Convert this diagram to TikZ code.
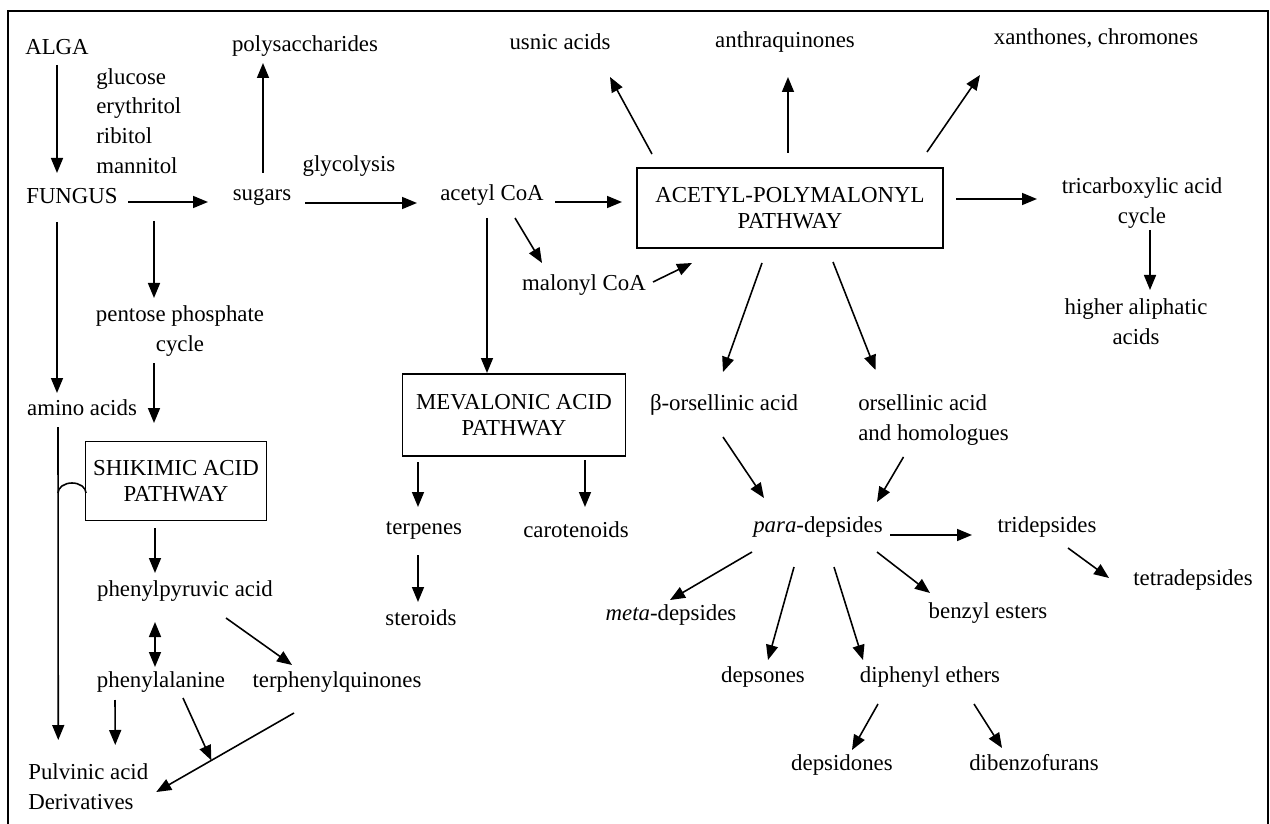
\documentclass[tikz,border=0pt]{standalone}
\usepackage{fontspec}
\setmainfont{Liberation Serif}
\usetikzlibrary{arrows.meta}

\begin{document}
\begin{tikzpicture}[
  x=0.2mm, y=-0.2mm, line width=0.9pt,
  font=\fontsize{13}{17}\selectfont, >={Triangle[length=3mm, width=2.4mm]},
  cpd/.style={inner sep=2pt, align=center},
  lst/.style={inner sep=2pt, anchor=west, align=left},
  box/.style={draw, align=center, font=\fontsize{13}{15}\selectfont}
]
\useasboundingbox (0,0) rectangle (1270,824);
% frame, open at the bottom
\draw[line width=1.4pt] (8,824) -- (8,11) -- (1268,11) -- (1268,824);

% left column
\node[cpd] (alga)   at (57,47)   {ALGA};
\node[lst] (polyols) at (92,121) {glucose\\erythritol\\ribitol\\mannitol};
\node[cpd] (fungus) at (72,196)  {FUNGUS};
\node[cpd] (poly)   at (305,46)  {polysaccharides};
\node[cpd] (sugars) at (262,197) {sugars};
\node[cpd] (glyc)   at (349,166) {glycolysis};
\node[cpd] (pent)   at (180,331) {pentose phosphate\\cycle};
\node[cpd] (amino)  at (82,408)  {amino acids};
\node[box, minimum width=36.2mm, minimum height=15.8mm] (shik) at (176,481) {SHIKIMIC ACID\\PATHWAY};
\node[cpd] (phpyr)  at (185,591) {phenylpyruvic acid};
\node[cpd] (phala)  at (161,682) {phenylalanine};
\node[cpd] (terph)  at (337,682) {terphenylquinones};
\node[lst] (pulv)   at (24,787)  {Pulvinic acid\\Derivatives};

% middle
\node[cpd] (acetyl)  at (492,195) {acetyl CoA};
\node[cpd] (malonyl) at (584,285) {malonyl CoA};
\node[box, minimum width=44.6mm, minimum height=16.4mm] (mev) at (514,415) {MEVALONIC ACID\\PATHWAY};
\node[cpd] (terp)  at (424,530) {terpenes};
\node[cpd] (carot) at (576,530) {carotenoids};
\node[cpd] (ster)  at (421,618) {steroids};

% right
\node[box, minimum width=61.2mm, minimum height=16mm] (apw) at (790,208) {ACETYL-POLYMALONYL\\PATHWAY};
\node[cpd] (usnic)  at (560,42)   {usnic acids};
\node[cpd] (anthra) at (785,42)   {anthraquinones};
\node[cpd] (xanth)  at (1096,38)  {xanthones, chromones};
\node[cpd] (tca)    at (1142,203) {tricarboxylic acid\\cycle};
\node[cpd] (higher) at (1136,322) {higher aliphatic\\acids};
\node[cpd] (bors)   at (724,405)  {β-orsellinic acid};
\node[lst] (ors)    at (854,420)  {orsellinic acid\\and homologues};
\node[cpd] (para)   at (818,527)  {\textit{para}-depsides};
\node[cpd] (tri)    at (1047,527) {tridepsides};
\node[cpd] (tetra)  at (1193,580) {tetradepsides};
\node[cpd] (meta)   at (671,615)  {\textit{meta}-depsides};
\node[cpd] (benz)   at (988,613)  {benzyl esters};
\node[cpd] (deps)   at (763,677)  {depsones};
\node[cpd] (diph)   at (930,677)  {diphenyl ethers};
\node[cpd] (depsid) at (842,765)  {depsidones};
\node[cpd] (dibenz) at (1034,763) {dibenzofurans};

% left arrows
\draw[->] ([shift={(0,18)}]alga.center) -- ([shift={(-15,-23)}]fungus.center);
\draw[->] ([shift={(56,6)}]fungus.center) -- ([shift={(-54,5)}]sugars.center);
\draw[->] ([shift={(1,-24)}]sugars.center) -- ([shift={(-42,17)}]poly.center);
\draw[->] ([shift={(43,6)}]sugars.center) -- ([shift={(-75,8)}]acetyl.center);
\draw[->] ([shift={(82,25)}]fungus.center) -- ([shift={(-26,-33)}]pent.center);
\draw[->] ([shift={(-15,26)}]fungus.center) -- ([shift={(-25,-15)}]amino.center);
\draw[->] ([shift={(-26,32)}]pent.center) -- ([shift={(-22,-58)}]shik.center);
\draw[->] ([shift={(-24,19)}]amino.center) -- ([shift={(-30,-47)}]pulv.center);
\draw ([shift={(-90,12)}]shik.center) arc[start angle=0, end angle=180, x radius=2.8mm, y radius=2mm];
\draw[->] ([shift={(-21,47)}]shik.center) -- ([shift={(-30,-18)}]phpyr.center);
\draw[<->] ([shift={(-30,31)}]phpyr.center) -- ([shift={(-6,-15)}]phala.center);
\draw[->] ([shift={(41,27)}]phpyr.center) -- ([shift={(-45,-17)}]terph.center);
\draw[->] ([shift={(-46,18)}]phala.center) -- ([shift={(27,-42)}]pulv.center);
\draw[->] ([shift={(-43,31)}]terph.center) -- coordinate[pos=0.6] (meet) ([shift={(68,5)}]pulv.center);
\draw[->] ([shift={(22,16)}]phala.center) -- (meet);

% middle and right arrows
\draw[->] ([shift={(63,7)}]acetyl.center) -- ([shift={(-168,-6)}]apw.center);
\draw[->] ([shift={(-5,23)}]acetyl.center) -- ([shift={(-27,-42)}]mev.center);
\draw[->] ([shift={(23,23)}]acetyl.center) -- ([shift={(-42,-22)}]malonyl.center);
\draw[->] ([shift={(69,-3)}]malonyl.center) -- ([shift={(-98,55)}]apw.center);
\draw[->] ([shift={(-138,-54)}]apw.center) -- ([shift={(50,35)}]usnic.center);
\draw[->] ([shift={(-2,-55)}]apw.center) -- ([shift={(3,35)}]anthra.center);
\draw[->] ([shift={(137,-56)}]apw.center) -- ([shift={(-116,37)}]xanth.center);
\draw[->] ([shift={(166,-9)}]apw.center) -- ([shift={(-105,-4)}]tca.center);
\draw[->] ([shift={(8,27)}]tca.center) -- ([shift={(14,-32)}]higher.center);
\draw[->] ([shift={(-28,55)}]apw.center) -- ([shift={(-1,-33)}]bors.center);
\draw[->] ([shift={(43,54)}]apw.center) -- ([shift={(-58,-50)}]ors.center);
\draw[->] ([shift={(-96,47)}]mev.center) -- ([shift={(-6,-23)}]terp.center);
\draw[->] ([shift={(71,45)}]mev.center) -- ([shift={(9,-23)}]carot.center);
\draw[->] ([shift={(-6,25)}]terp.center) -- ([shift={(-3,-16)}]ster.center);
\draw[->] ([shift={(-1,32)}]bors.center) -- ([shift={(-54,-29)}]para.center);
\draw[->] ([shift={(-30,37)}]ors.center) -- ([shift={(59,-25)}]para.center);
\draw[->] ([shift={(72,8)}]para.center) -- ([shift={(-75,8)}]tri.center);
\draw[->] ([shift={(21,21)}]tri.center) -- ([shift={(-84,-2)}]tetra.center);
\draw[->] ([shift={(-66,25)}]para.center) -- ([shift={(-1,-15)}]meta.center);
\draw[->] ([shift={(-24,40)}]para.center) -- ([shift={(5,-17)}]deps.center);
\draw[->] ([shift={(16,40)}]para.center) -- ([shift={(-67,-17)}]diph.center);
\draw[->] ([shift={(59,25)}]para.center) -- ([shift={(-58,-20)}]benz.center);
\draw[->] ([shift={(-52,27)}]diph.center) -- ([shift={(10,-15)}]depsid.center);
\draw[->] ([shift={(44,27)}]diph.center) -- ([shift={(-32,-15)}]dibenz.center);
\end{tikzpicture}
\end{document}
